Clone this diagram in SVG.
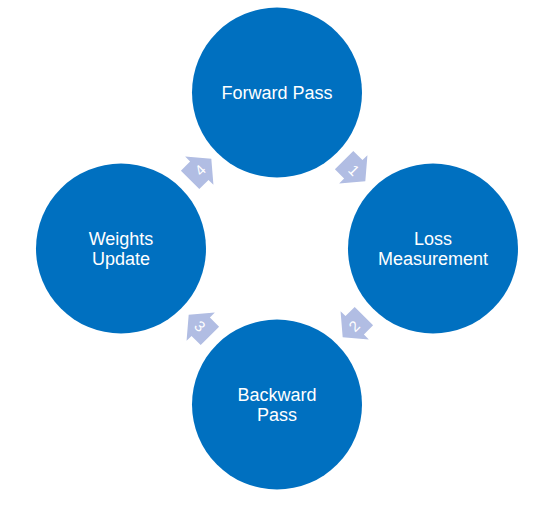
<svg xmlns="http://www.w3.org/2000/svg" width="553" height="507" viewBox="0 0 553 507">
<style>
.node{fill:#0070C0;}
.lbl{font-family:"Liberation Sans",Arial,sans-serif;font-size:18px;fill:#FFFFFF;text-anchor:middle;}
.arr{fill:#B1BDE3;}
.num{font-family:"Liberation Sans",Arial,sans-serif;font-size:15px;fill:#FFFFFF;text-anchor:middle;}
</style>
<defs>
<path id="arrow" d="M -14,-13 L -1,-13 L -1,-20 L 16,0 L -1,20 L -1,13 L -14,13 Z"/>
</defs>
<rect width="553" height="507" fill="#FFFFFF"/>
<g id="connectors">
<g transform="translate(354,170) rotate(45)"><use href="#arrow" class="arr"/><text class="num" x="0" y="5.5">1</text></g>
<g transform="translate(354,326) rotate(135)"><use href="#arrow" class="arr"/><text class="num" x="0" y="5.5" transform="rotate(180)">2</text></g>
<g transform="translate(200,326) rotate(225)"><use href="#arrow" class="arr"/><text class="num" x="0" y="5.5" transform="rotate(180)">3</text></g>
<g transform="translate(200,170) rotate(315)"><use href="#arrow" class="arr"/><text class="num" x="0" y="5.5">4</text></g>
</g>
<g id="forward-pass">
<circle class="node" cx="277" cy="92.5" r="85"/>
<text class="lbl" x="277" y="98.5">Forward Pass</text>
</g>
<g id="loss-measurement">
<circle class="node" cx="433" cy="248.5" r="85"/>
<text class="lbl" x="433" y="245">Loss</text>
<text class="lbl" x="433" y="264.5">Measurement</text>
</g>
<g id="backward-pass">
<circle class="node" cx="277" cy="404.5" r="85"/>
<text class="lbl" x="277" y="401">Backward</text>
<text class="lbl" x="277" y="420.5">Pass</text>
</g>
<g id="weights-update">
<circle class="node" cx="121" cy="248.5" r="85"/>
<text class="lbl" x="121" y="245">Weights</text>
<text class="lbl" x="121" y="264.5">Update</text>
</g>
</svg>
